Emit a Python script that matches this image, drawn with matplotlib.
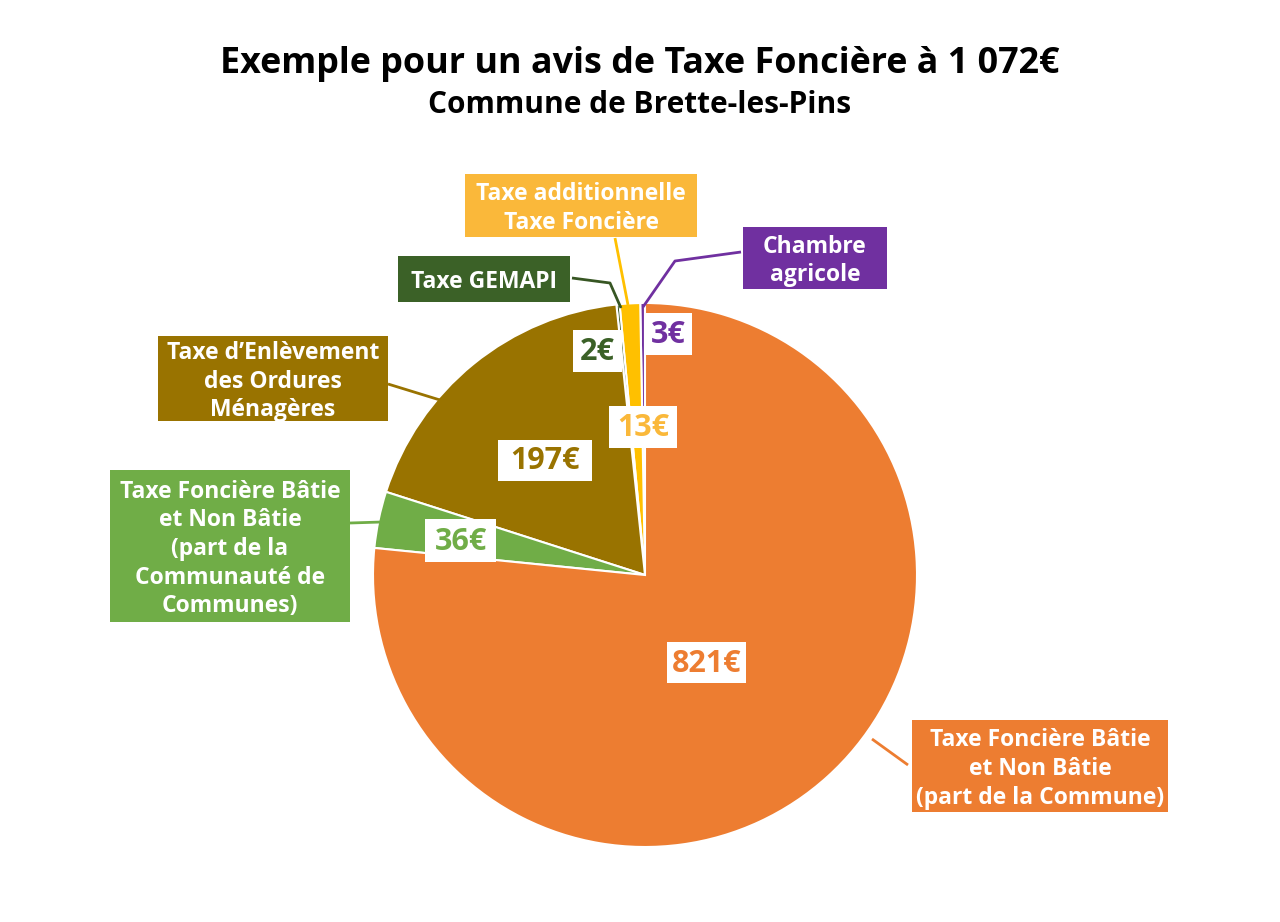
import matplotlib.pyplot as plt
from matplotlib.patches import Rectangle

plt.rcParams['font.family'] = ['Open Sans', 'DejaVu Sans']

# data, in pie order (counter-clockwise from the top)
categories = ['Chambre\nagricole',
              'Taxe additionnelle\nTaxe Foncière',
              'Taxe GEMAPI',
              'Taxe d\u2019Enlèvement\ndes Ordures\nMénagères',
              'Taxe Foncière Bâtie\net Non Bâtie\n(part de la\nCommunauté de\nCommunes)',
              'Taxe Foncière Bâtie\net Non Bâtie\n(part de la Commune)']
values = [3, 13, 2, 197, 36, 821]
value_labels = ['%d€' % v for v in values]
colors = ['#7030A0', '#FFC000', '#375623', '#997300', '#70AD47', '#ED7D31']
box_colors = ['#7030A0', '#FAB83A', '#3B6127', '#997300', '#70AD47', '#ED7D31']
text_colors = ['#7030A0', '#FAB83A', '#3B6127', '#997300', '#70AD47', '#ED7D31']

H = 922
def Y(y):
    return H - y

# layout (image pixel coords): value boxes (x0, x1, y0, y1)
value_boxes = [(645, 692, 313, 355), (609, 677, 406, 448), (573, 622, 330, 372),
               (498, 592, 440, 481), (425, 496, 519, 562), (667, 746, 642, 683)]
# name boxes
name_boxes = [(743, 887, 227, 289), (465, 697, 174, 237), (398, 570, 256, 302),
              (158, 388, 336, 421), (110, 350, 470, 622), (912, 1168, 720, 812)]
leaders = [[(741, 252), (675, 261), (643, 307)],
           [(615, 238), (628, 305)],
           [(572, 278), (610, 283), (621, 308)],
           [(388, 384), (440, 400)],
           [(350, 523), (382, 522)],
           [(872, 739), (908, 765)]]

fig = plt.figure(figsize=(12.8, 9.22), dpi=100)
ax = fig.add_axes([0, 0, 1, 1])

ax.pie(values, colors=colors, startangle=90, counterclock=True,
       center=(645, Y(575)), radius=272, frame=True,
       wedgeprops=dict(edgecolor='white', linewidth=1.5))
ax.set_xlim(0, 1280)
ax.set_ylim(0, H)
ax.axis('off')

for i in range(len(values)):
    # leader line
    xs = [p[0] for p in leaders[i]]
    ys = [Y(p[1]) for p in leaders[i]]
    ax.plot(xs, ys, color=colors[i], lw=2, solid_capstyle='butt', zorder=3)

    x0, x1, y0, y1 = name_boxes[i]
    ax.add_patch(Rectangle((x0, Y(y1)), x1 - x0, y1 - y0, fc=box_colors[i], ec='none', zorder=4))
    ax.text((x0 + x1) / 2, Y((y0 + y1) / 2 + 3), categories[i], color='white',
            fontsize=16.5, fontweight='bold', ha='center', va='center',
            linespacing=1.25, zorder=5)

    x0, x1, y0, y1 = value_boxes[i]
    ax.add_patch(Rectangle((x0, Y(y1)), x1 - x0, y1 - y0, fc='white', ec='none', zorder=4))
    ax.text((x0 + x1) / 2, Y((y0 + y1) / 2 + 1), value_labels[i], color=text_colors[i],
            fontsize=22, fontweight='bold', ha='center', va='center', zorder=5)

ax.text(640, Y(64), 'Exemple pour un avis de Taxe Foncière à 1 072€',
        fontsize=25.8, fontweight='bold', ha='center', va='center')
ax.text(640, Y(105), 'Commune de Brette-les-Pins',
        fontsize=21.5, fontweight='bold', ha='center', va='center')

fig.savefig('out.png', dpi=100)
